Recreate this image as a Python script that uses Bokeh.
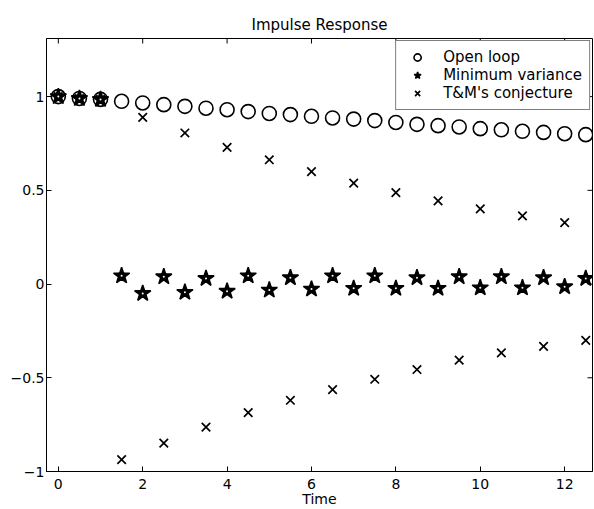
import math
from bokeh.plotting import figure
from bokeh.models import Range1d, FixedTicker, Legend, LegendItem, ColumnDataSource
from bokeh.embed import file_html
from bokeh.resources import INLINE

# ---- data ----
time = [0.0, 0.5, 1.0, 1.5, 2.0, 2.5, 3.0, 3.5, 4.0, 4.5, 5.0, 5.5, 6.0,
        6.5, 7.0, 7.5, 8.0, 8.5, 9.0, 9.5, 10.0, 10.5, 11.0, 11.5, 12.0, 12.5]

open_loop = [1.0, 0.99, 0.985, 0.975, 0.966, 0.957, 0.948, 0.938, 0.93, 0.92,
             0.91, 0.904, 0.895, 0.886, 0.88, 0.872, 0.862, 0.852, 0.845, 0.838,
             0.829, 0.823, 0.815, 0.809, 0.802, 0.797]

min_variance = [1.0, 0.99, 0.985, 0.044, -0.05, 0.039, -0.044, 0.03, -0.038, 0.044,
                -0.032, 0.034, -0.027, 0.044, -0.023, 0.044, -0.023, 0.034, -0.023, 0.039,
                -0.02, 0.039, -0.02, 0.034, -0.014, 0.03]

tm_conjecture = [1.0, 0.99, 0.985, -0.937, 0.889, -0.849, 0.806, -0.763, 0.729, -0.686,
                 0.663, -0.62, 0.6, -0.563, 0.538, -0.508, 0.488, -0.456, 0.444, -0.406,
                 0.401, -0.367, 0.364, -0.332, 0.328, -0.3]

x_ticks = [0, 2, 4, 6, 8, 10, 12]
y_ticks = [-1, -0.5, 0, 0.5, 1]
y_tick_labels = {-1: "\u22121", -0.5: "\u22120.5", 0: "0", 0.5: "0.5", 1: "1"}

series_labels = ["Open loop", "Minimum variance", "T&M's conjecture"]

X_MIN, X_MAX = -0.28, 12.66
Y_MIN, Y_MAX = -1.0, 1.31

FONT = "DejaVu Sans"

src = ColumnDataSource(data=dict(t=time, ol=open_loop, mv=min_variance, tm=tm_conjecture))

p = figure(width=594, height=509, x_range=Range1d(X_MIN, X_MAX), y_range=Range1d(Y_MIN, Y_MAX),
           output_backend="svg", toolbar_location=None,
           min_border_left=46, min_border_right=2, min_border_top=38, min_border_bottom=38)

p.title.text = "Impulse Response"
p.title.align = "center"
p.title.text_font = FONT
p.title.text_font_size = "15px"
p.title.text_font_style = "normal"
p.title.text_color = "black"

p.xgrid.visible = False
p.ygrid.visible = False
p.outline_line_color = "black"
p.outline_line_width = 1
p.background_fill_color = "white"
p.border_fill_color = "white"

for ax in (p.xaxis[0], p.yaxis[0]):
    ax.major_tick_in = 5
    ax.major_tick_out = 0
    ax.minor_tick_line_color = None
    ax.axis_line_color = "black"
    ax.major_tick_line_color = "black"
    ax.major_label_text_font = FONT
    ax.major_label_text_font_size = "14px"
    ax.major_label_text_color = "black"

p.xaxis.ticker = FixedTicker(ticks=x_ticks)
p.yaxis.ticker = FixedTicker(ticks=y_ticks)
p.yaxis.major_label_overrides = y_tick_labels
p.yaxis.major_label_standoff = 2
p.xaxis.major_label_standoff = 7
p.xaxis.axis_label = "Time"
p.xaxis.axis_label_text_font = FONT
p.xaxis.axis_label_text_font_size = "14px"
p.xaxis.axis_label_text_font_style = "normal"
p.xaxis.axis_label_text_color = "black"
p.xaxis.axis_label_standoff = -1

# inward tick marks on the top and right edges of the box
p.ray(x=x_ticks, y=[Y_MAX] * len(x_ticks), length=5, length_units="screen",
      angle=-math.pi / 2, line_color="black", line_width=1)
p.ray(x=[X_MAX] * len(y_ticks), y=y_ticks, length=5, length_units="screen",
      angle=math.pi, line_color="black", line_width=1)

r_ol = p.scatter("t", "ol", source=src, marker="circle", size=14,
                 fill_color=None, line_color="black", line_width=1.6)
r_tm = p.scatter("t", "tm", source=src, marker="x", size=12,
                 line_color="black", line_width=1.7)
r_mv = p.scatter("t", "mv", source=src, marker="star", size=17,
                 fill_color="black", line_color="black", line_width=1.5)
p.scatter("t", "mv", source=src, marker="circle", size=8,
          fill_color="black", line_color=None)
p.scatter("t", "mv", source=src, marker="circle", size=2,
          fill_color="white", line_color=None)

legend = Legend(items=[LegendItem(label=series_labels[0], renderers=[r_ol]),
                       LegendItem(label=series_labels[1], renderers=[r_mv]),
                       LegendItem(label=series_labels[2], renderers=[r_tm])],
                location="top_right")
legend.margin = 2
legend.padding = 7
legend.spacing = 0
legend.glyph_width = 28
legend.glyph_height = 18
legend.label_height = 18
legend.label_standoff = 12
legend.label_text_font = FONT
legend.label_text_font_size = "15px"
legend.label_text_color = "black"
legend.border_line_color = "black"
legend.border_line_width = 1
legend.background_fill_color = "white"
legend.background_fill_alpha = 1.0
p.add_layout(legend)

open("out.html", "w").write(file_html(p, INLINE))
